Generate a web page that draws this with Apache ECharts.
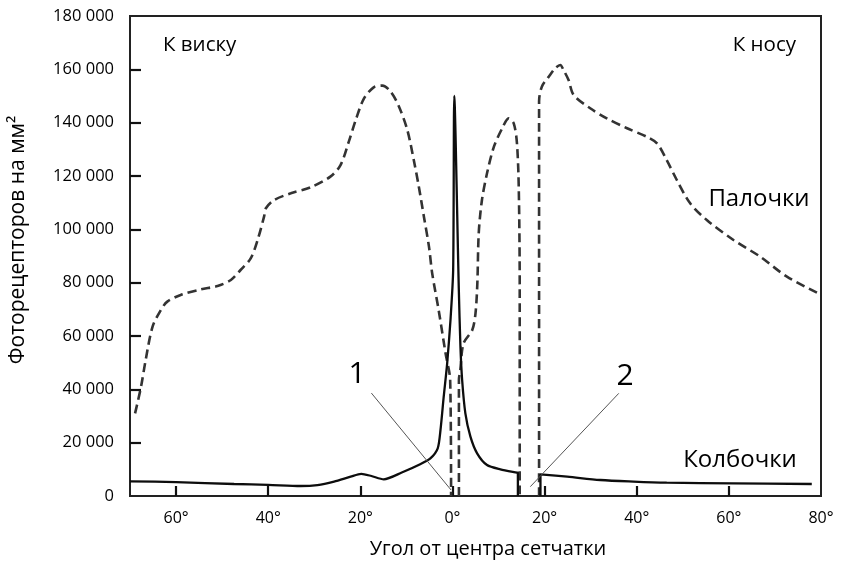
<!DOCTYPE html>
<html>
<head>
<meta charset="utf-8">
<script src="https://cdn.jsdelivr.net/npm/echarts@6/dist/echarts.min.js"></script>
<style>
html,body{margin:0;padding:0;background:#fff;}
#chart{width:842px;height:574px;}
</style>
</head>
<body>
<div id="chart"></div>
<script>
// Angle from retina centre (deg): negative = temporal (к виску), positive = nasal (к носу)
const xTickValues = [-60, -40, -20, 0, 20, 40, 60, 80];
const yTickValues = [0, 20000, 40000, 60000, 80000, 100000, 120000, 140000, 160000, 180000];

// Rods (палочки), dashed, three pieces separated by fovea and blind spot
const rodsLeft = [
  [-68.9, 31000], [-67.6, 41000], [-66.6, 51000], [-65.1, 63500], [-63.3, 69750],
  [-61.9, 72900], [-59.0, 75400], [-54.6, 77500], [-51.0, 78750], [-48.1, 81000],
  [-46.0, 84750], [-43.8, 89100], [-42.3, 96000], [-40.9, 104750], [-40.5, 107900],
  [-38.7, 111000], [-35.1, 113500], [-30.8, 115750], [-26.5, 119750], [-24.3, 124100],
  [-22.5, 132900], [-21.0, 141000], [-19.2, 149100], [-17.1, 153250], [-15.2, 153900],
  [-13.4, 151600], [-11.6, 146000], [-9.8, 137250], [-8.4, 126000], [-7.3, 116000],
  [-6.2, 104750], [-5.1, 93500], [-4.4, 83500], [-3.0, 69750], [-1.5, 53500],
  [-0.5, 43500], [-0.3, 0]
];
const rodsCenter = [
  [1.4, 0], [1.4, 43500], [1.7, 47250], [2.4, 57250], [4.3, 62250], [5.0, 68500],
  [5.4, 79750], [5.7, 98500], [6.4, 111000], [7.5, 121000], [9.0, 131000],
  [10.8, 137900], [12.2, 141600], [13.3, 139750], [14.0, 132250], [14.4, 114750],
  [14.6, 77250], [14.6, 0]
];
const rodsRight = [
  [18.8, 0], [18.8, 148000], [19.4, 153500], [20.9, 157250], [22.3, 160400],
  [23.4, 161600], [24.1, 159750], [25.2, 156000], [26.3, 150400], [29.9, 145400],
  [33.5, 141600], [37.9, 137900], [42.2, 134700], [44.4, 132250], [46.5, 126000],
  [48.7, 118500], [51.6, 109750], [55.2, 103500], [61.0, 96000], [66.8, 89750],
  [72.6, 82250], [80.0, 75500]
];

// Cones (колбочки), solid
const conesLeft = [
  [-70, 5500], [-60, 5200], [-47.4, 4500], [-40, 4200], [-33, 3750], [-29.3, 4100],
  [-25.7, 5400], [-22.1, 7250], [-19.8, 8300], [-17.6, 7500], [-14.9, 6250],
  [-11.0, 8800], [-6.9, 12000], [-4.8, 14100], [-3.2, 17900], [-2.6, 24750],
  [-1.9, 37250], [-1.15, 49750], [-0.43, 66000], [0.15, 84750], [0.4, 150000],
  [1.37, 78000], [1.73, 56000], [2.1, 43500], [2.8, 31000], [3.9, 22250],
  [5.35, 16000], [7.5, 11600], [10.4, 10000], [14.0, 8750], [14.2, 8700], [14.2, 0]
];
const conesRight = [
  [19.1, 0], [19.1, 8100], [24.9, 7250], [32.1, 6000], [39.3, 5400], [46.5, 5000],
  [61.0, 4750], [78.0, 4500]
];

// Pointer lines for labels 1 and 2
const pointer1 = [[-17.6, 38600], [-0.3, 2250]];
const pointer2 = [[36.1, 38500], [16.9, 3500]];

const FONT = '"Open Sans", "Noto Sans", sans-serif';
const dashStyle = { color: '#333', width: 2.6, type: [9, 5] };
const solidStyle = { color: '#0d0d0d', width: 2.3 };

function fmtNum(v) {
  return String(v).replace(/\B(?=(\d{3})+(?!\d))/g, ' ');
}

const chart = echarts.init(document.getElementById('chart'), null, { renderer: 'canvas' });

function lineSeries(data, style, smooth) {
  return {
    type: 'line', data: data, showSymbol: false, symbol: 'none',
    smooth: smooth, lineStyle: style, z: 3, animation: false
  };
}

const option = {
  animation: false,
  backgroundColor: '#fff',
  grid: { left: 130, top: 16, right: 21, bottom: 78, show: true, borderColor: '#222', borderWidth: 2 },
  xAxis: {
    type: 'value', min: -70, max: 80,
    axisLine: { show: true, onZero: false, lineStyle: { color: '#222', width: 2 } },
    axisTick: { show: true, inside: true, length: 10, customValues: xTickValues.slice(0, 7), lineStyle: { color: '#111', width: 2.2 } },
    axisLabel: {
      customValues: xTickValues, margin: 14,
      formatter: v => Math.abs(v) + '°',
      color: '#000', fontSize: 16, fontFamily: FONT
    },
    splitLine: { show: false }
  },
  yAxis: {
    type: 'value', min: 0, max: 180000, interval: 20000,
    axisLine: { show: true, onZero: false, lineStyle: { color: '#222', width: 2 } },
    axisTick: { show: true, inside: true, length: 11, customValues: yTickValues.slice(1, 9), lineStyle: { color: '#111', width: 2.2 } },
    axisLabel: {
      margin: 16, formatter: v => fmtNum(v),
      color: '#000', fontSize: 16.5, fontFamily: FONT
    },
    splitLine: { show: false }
  },
  series: [
    lineSeries(rodsLeft, dashStyle, 0.3),
    lineSeries(rodsCenter, dashStyle, 0.3),
    lineSeries(rodsRight, dashStyle, 0.3),
    lineSeries(conesLeft, solidStyle, 0.25),
    lineSeries(conesRight, solidStyle, 0.3),
    {
      type: 'line', data: [], silent: true,
      markLine: {
        silent: true, symbol: ['none', 'none'], animation: false,
        lineStyle: { color: '#555', width: 1, type: 'solid' },
        label: { show: false },
        data: [
          [{ coord: pointer1[0] }, { coord: pointer1[1] }],
          [{ coord: pointer2[0] }, { coord: pointer2[1] }]
        ]
      }
    }
  ],
  graphic: [
    { type: 'text', x: 18, y: 240, rotation: Math.PI / 2,
      style: { text: 'Фоторецепторов на мм²', font: '21px ' + FONT, fill: '#000', align: 'center', verticalAlign: 'middle' } },
    { type: 'text', x: 488, y: 549,
      style: { text: 'Угол от центра сетчатки', font: '20px ' + FONT, fill: '#000', align: 'center', verticalAlign: 'middle' } },
    { type: 'text', x: 163, y: 45,
      style: { text: 'К виску', font: '20.5px ' + FONT, fill: '#000', align: 'left', verticalAlign: 'middle' } },
    { type: 'text', x: 796, y: 45,
      style: { text: 'К носу', font: '20.5px ' + FONT, fill: '#000', align: 'right', verticalAlign: 'middle' } },
    { type: 'text', x: 759, y: 199,
      style: { text: 'Палочки', font: '24px ' + FONT, fill: '#000', align: 'center', verticalAlign: 'middle' } },
    { type: 'text', x: 740, y: 460,
      style: { text: 'Колбочки', font: '24px ' + FONT, fill: '#000', align: 'center', verticalAlign: 'middle' } },
    { type: 'text', x: 357, y: 374,
      style: { text: '1', font: '30px ' + FONT, fill: '#000', align: 'center', verticalAlign: 'middle' } },
    { type: 'text', x: 625, y: 376,
      style: { text: '2', font: '30px ' + FONT, fill: '#000', align: 'center', verticalAlign: 'middle' } }
  ]
};
chart.setOption(option);
</script>
</body>
</html>
